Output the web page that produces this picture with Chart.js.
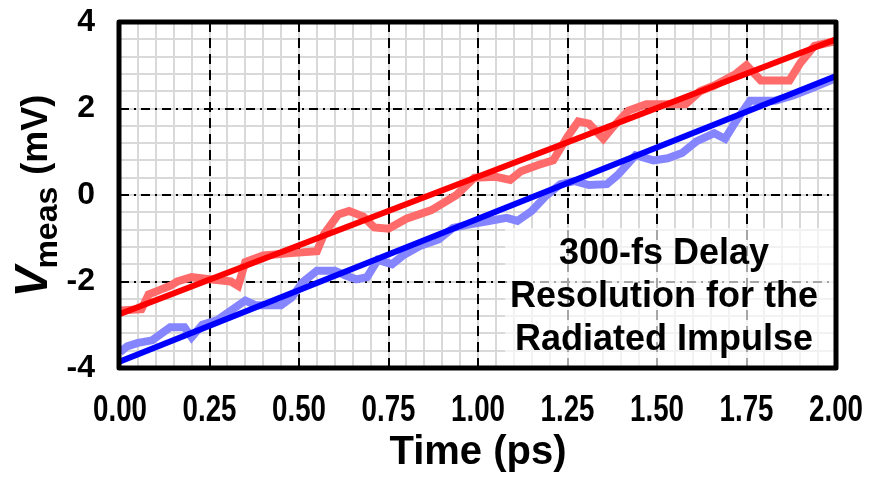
<!DOCTYPE html>
<html>
<head>
<meta charset="utf-8">
<script src="https://cdn.jsdelivr.net/npm/chart.js@4.4.1/dist/chart.umd.min.js"></script>
<style>
  html, body { margin: 0; padding: 0; background: #ffffff; }
  #wrap { width: 871px; height: 477px; }
</style>
</head>
<body>
<div id="wrap"><canvas id="c" width="871" height="477"></canvas></div>
<script>
// ---- data ----
const timeRed = [0.00, 0.06, 0.08, 0.11, 0.14, 0.16, 0.20, 0.25, 0.31, 0.33, 0.35, 0.40, 0.47, 0.55, 0.57, 0.61, 0.64, 0.68, 0.71, 0.75, 0.80, 0.87, 0.94, 0.99, 1.05, 1.09, 1.12, 1.17, 1.21, 1.25, 1.28, 1.31, 1.35, 1.38, 1.42, 1.47, 1.58, 1.62, 1.66, 1.72, 1.75, 1.79, 1.87, 1.90, 1.94, 2.00];
const vRed    = [-2.67, -2.64, -2.30, -2.20, -2.10, -2.00, -1.90, -1.95, -2.00, -2.10, -1.55, -1.40, -1.35, -1.30, -0.90, -0.45, -0.37, -0.50, -0.75, -0.78, -0.55, -0.35, 0.00, 0.40, 0.42, 0.35, 0.55, 0.70, 0.80, 1.35, 1.70, 1.65, 1.30, 1.60, 1.95, 2.10, 2.10, 2.40, 2.53, 2.80, 3.00, 2.65, 2.65, 3.05, 3.45, 3.56];

const timeBlue = [0.00, 0.02, 0.05, 0.09, 0.14, 0.18, 0.20, 0.23, 0.27, 0.31, 0.35, 0.38, 0.45, 0.48, 0.51, 0.55, 0.60, 0.63, 0.66, 0.69, 0.72, 0.76, 0.79, 0.84, 0.89, 0.93, 0.97, 1.03, 1.08, 1.11, 1.15, 1.19, 1.23, 1.27, 1.31, 1.36, 1.39, 1.44, 1.49, 1.53, 1.57, 1.61, 1.66, 1.69, 1.72, 1.76, 1.83, 1.88, 1.93, 2.00];
const vBlue    = [-3.63, -3.50, -3.42, -3.36, -3.06, -3.06, -3.29, -3.00, -2.90, -2.67, -2.44, -2.55, -2.55, -2.37, -2.02, -1.75, -1.75, -1.86, -1.95, -1.90, -1.50, -1.60, -1.40, -1.17, -1.03, -0.76, -0.69, -0.60, -0.53, -0.60, -0.37, -0.02, 0.25, 0.32, 0.23, 0.25, 0.46, 0.92, 0.80, 0.85, 0.97, 1.24, 1.43, 1.30, 1.70, 2.18, 2.18, 2.30, 2.46, 2.70];

const fitTime = [0, 2];
const fitRed  = [-2.75, 3.60];
const fitBlue = [-3.85, 2.75];

const xTicks = [0, 0.25, 0.5, 0.75, 1.0, 1.25, 1.5, 1.75, 2.0];
const yTicks = [-4, -2, 0, 2, 4];

const xTitle = 'Time (ps)';
const yTitleMain = 'V';
const yTitleSub = 'meas';
const yTitleUnit = ' (mV)';
const noteLines = ['300-fs Delay', 'Resolution for the', 'Radiated Impulse'];

// ---- helpers ----
const pts = (xs, ys) => xs.map((x, i) => ({ x: x, y: ys[i] }));

const SANS = "'Liberation Sans', Arial, sans-serif";

const minorGrid = {
  id: 'minorGrid',
  beforeDraw(chart) {
    const { ctx, chartArea: a, scales: { x, y } } = chart;
    ctx.save();
    ctx.strokeStyle = '#d9d9d9';
    ctx.lineWidth = 2;
    ctx.beginPath();
    for (let i = 0; i <= 40; i++) {
      const px = Math.round(x.getPixelForValue(i * 0.05));
      ctx.moveTo(px, a.top); ctx.lineTo(px, a.bottom);
    }
    for (let j = 0; j <= 20; j++) {
      const py = Math.round(y.getPixelForValue(-4 + j * 0.4));
      ctx.moveTo(a.left, py); ctx.lineTo(a.right, py);
    }
    ctx.stroke();
    ctx.restore();
  }
};

const noteBox = {
  id: 'noteBox',
  beforeDatasetsDraw(chart) {
    const { ctx, chartArea: a } = chart;
    ctx.save();
    ctx.fillStyle = 'rgba(255,255,255,0.65)';
    ctx.fillRect(505, 228, a.right - 505, a.bottom - 228);
    ctx.restore();
  },
  afterDatasetsDraw(chart) {
    const { ctx } = chart;
    ctx.save();
    ctx.fillStyle = '#000000';
    ctx.font = 'bold 36px ' + SANS;
    ctx.textAlign = 'center';
    ctx.textBaseline = 'middle';
    const cx = 664;
    noteLines.forEach((t, i) => ctx.fillText(t, cx, 254 + i * 43));
    ctx.restore();
  }
};

const frameAndTitle = {
  id: 'frameAndTitle',
  afterDraw(chart) {
    const { ctx, chartArea: a, scales: { x } } = chart;
    ctx.save();
    ctx.strokeStyle = '#000000';
    ctx.lineWidth = 5;
    ctx.lineJoin = 'round';
    ctx.strokeRect(a.left - 1, a.top, a.right - a.left + 1, a.bottom - a.top);

    // x tick labels: condensed bold digits, placed by the x scale
    ctx.fillStyle = '#000000';
    ctx.font = 'bold 36px ' + SANS;
    ctx.textAlign = 'center';
    ctx.textBaseline = 'middle';
    x.ticks.forEach((t) => {
      const px = x.getPixelForValue(t.value);
      ctx.save();
      ctx.translate(px, 411);
      ctx.scale(0.77, 1);
      ctx.fillText(Number(t.value).toFixed(2), 0, 0);
      ctx.restore();
    });

    // y axis title (rotated, with subscript)
    ctx.translate(47, 196);
    ctx.rotate(-Math.PI / 2);
    ctx.textBaseline = 'alphabetic';
    ctx.textAlign = 'left';
    const fMain = 'italic bold 46px ' + SANS;
    const fSub = 'bold 32px ' + SANS;
    const fUnit = 'bold 36px ' + SANS;
    ctx.font = fMain; const w1 = ctx.measureText(yTitleMain).width;
    ctx.font = fSub; const w2 = ctx.measureText(yTitleSub).width;
    ctx.font = fUnit; const w3 = ctx.measureText(yTitleUnit).width;
    let sx = -(w1 + w2 + w3) / 2;
    ctx.font = fMain; ctx.fillText(yTitleMain, sx, 0); sx += w1 - 2;
    ctx.font = fSub; ctx.fillText(yTitleSub, sx, 10); sx += w2 + 2;
    ctx.font = fUnit; ctx.fillText(yTitleUnit, sx, 0);
    ctx.restore();
  }
};

new Chart(document.getElementById('c'), {
  type: 'scatter',
  data: {
    datasets: [
      { label: 'Fit (red)', data: pts(fitTime, fitRed), showLine: true, borderColor: '#ff0000', borderWidth: 6, pointRadius: 0, order: 0 },
      { label: 'Fit (blue)', data: pts(fitTime, fitBlue), showLine: true, borderColor: '#0000ff', borderWidth: 6, pointRadius: 0, order: 1 },
      { label: 'Measured (red)', data: pts(timeRed, vRed), showLine: true, borderColor: '#ff6b6b', borderWidth: 8, pointRadius: 0, order: 2 },
      { label: 'Measured (blue)', data: pts(timeBlue, vBlue), showLine: true, borderColor: '#8585ff', borderWidth: 8, pointRadius: 0, order: 3 }
    ]
  },
  options: {
    responsive: false,
    animation: false,
    devicePixelRatio: 1,
    layout: { padding: { top: 22, right: 35, left: 0, bottom: 0 } },
    plugins: { legend: { display: false }, tooltip: { enabled: false } },
    scales: {
      x: {
        type: 'linear', min: 0, max: 2,
        afterBuildTicks: (s) => { s.ticks = xTicks.map(v => ({ value: v })); },
        afterFit: (s) => { s.height = 109; s.paddingLeft = 0; s.paddingRight = 0; },
        grid: { color: '#000000', lineWidth: 2, drawTicks: false },
        border: { display: false, dash: [10, 6] },
        ticks: { display: false },
        title: {
          display: true, text: xTitle, color: '#000000',
          font: { family: SANS, size: 40, weight: 'bold' }, padding: { top: 0, bottom: 0 }
        }
      },
      y: {
        type: 'linear', min: -4, max: 4,
        afterBuildTicks: (s) => { s.ticks = yTicks.map(v => ({ value: v })); },
        afterFit: (s) => { s.width = 120; s.paddingTop = 0; s.paddingBottom = 0; },
        grid: { color: '#000000', lineWidth: 2, drawTicks: false },
        border: { display: false, dash: [9, 5, 2, 5] },
        ticks: {
          padding: 25, color: '#000000',
          font: { family: SANS, size: 32, weight: 'bold' },
          callback: (v) => String(v)
        }
      }
    }
  },
  plugins: [minorGrid, noteBox, frameAndTitle]
});
</script>
</body>
</html>
